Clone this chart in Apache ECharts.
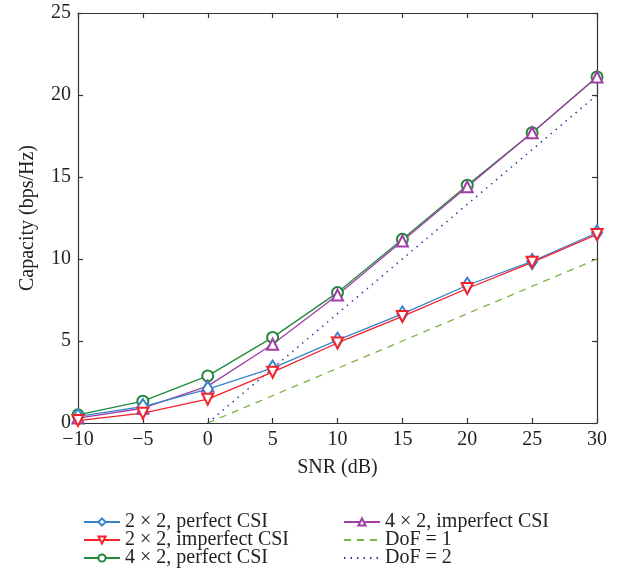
<!DOCTYPE html>
<html>
<head>
<meta charset="utf-8">
<script src="https://cdn.jsdelivr.net/npm/echarts@6/dist/echarts.min.js"></script>
<style>html,body{margin:0;padding:0;background:#fff}#c{width:621px;height:586px}</style>
</head>
<body>
<div id="c"></div>
<script>
var snr = [-10, -5, 0, 5, 10, 15, 20, 25, 30];
var perfect22 = [0.4, 1.0, 2.07, 3.35, 5.05, 6.65, 8.4, 9.85, 11.6];
var imperfect22 = [0.15, 0.6, 1.45, 3.1, 4.88, 6.5, 8.2, 9.8, 11.5];
var perfect42 = [0.5, 1.33, 2.87, 5.22, 7.95, 11.2, 14.5, 17.7, 21.1];
var imperfect42 = [0.3, 0.9, 2.25, 4.8, 7.8, 11.1, 14.4, 17.7, 21.1];
var dof1X = [0, 30];
var dof1Y = [0, 10];
var dof2X = [0, 30];
var dof2Y = [0, 20];
var names = ['2 × 2, perfect CSI', '2 × 2, imperfect CSI', '4 × 2, perfect CSI', '4 × 2, imperfect CSI', 'DoF = 1', 'DoF = 2'];

function pairs(xs, ys) { return xs.map(function (x, i) { return [x, ys[i]]; }); }
var font = 'Liberation Serif';
var minus = function (v) { return String(v).replace('-', '\u2212'); };

var chart = echarts.init(document.getElementById('c'));
function lineSeries(name, data, color, symbol, rotate, size) {
  return {
    name: name, type: 'line', data: data, symbol: symbol, symbolSize: size, symbolRotate: rotate || 0,
    showAllSymbol: true,
    lineStyle: { color: color, width: 1.3 }, itemStyle: { color: color, borderWidth: 1.3 },
    emphasis: { disabled: true }, z: 3
  };
}
var axisCommon = {
  type: 'value',
  axisLine: { show: true, onZero: false, lineStyle: { color: '#333', width: 1.2 } },
  axisTick: { show: true, inside: true, length: 5, lineStyle: { color: '#333', width: 1.2 } },
  splitLine: { show: false }
};
var legendText = { fontFamily: font, fontSize: 20, color: '#222', lineHeight: 18 };
chart.setOption({
  animation: false,
  textStyle: { fontFamily: font },
  grid: { left: 78, right: 24, top: 13, bottom: 163 },
  xAxis: [
    Object.assign({}, axisCommon, { min: -10, max: 30, interval: 5, position: 'bottom',
      name: 'SNR (dB)', nameLocation: 'middle', nameGap: 35,
      nameTextStyle: { fontFamily: font, fontSize: 20, color: '#222' },
      axisLabel: { fontFamily: font, fontSize: 20, color: '#222', margin: 7, formatter: minus } }),
    Object.assign({}, axisCommon, { min: -10, max: 30, interval: 5, position: 'top', axisLabel: { show: false } })
  ],
  yAxis: [
    Object.assign({}, axisCommon, { min: 0, max: 25, interval: 5, position: 'left',
      name: 'Capacity (bps/Hz)', nameLocation: 'middle', nameGap: 40,
      nameTextStyle: { fontFamily: font, fontSize: 20, color: '#222' },
      axisLabel: { fontFamily: font, fontSize: 20, color: '#222', margin: 7 } }),
    Object.assign({}, axisCommon, { min: 0, max: 25, interval: 5, position: 'right', axisLabel: { show: false } })
  ],
  legend: [
    { data: names.slice(0, 3), orient: 'vertical', left: 78, top: 507, itemWidth: 36, itemHeight: 9, itemGap: -2,
      textStyle: legendText },
    { data: [names[3], { name: names[4], itemStyle: { opacity: 0 } }, { name: names[5], itemStyle: { opacity: 0 } }],
      orient: 'vertical', left: 338, top: 507, itemWidth: 36, itemHeight: 9, itemGap: -2,
      textStyle: legendText }
  ],
  series: [
    {
      name: 'DoF = 1', type: 'line', data: pairs(dof1X, dof1Y), symbol: 'none',
      lineStyle: { color: '#7cb342', width: 1.3, type: [7, 6] }, itemStyle: { color: '#7cb342' }, z: 2
    },
    {
      name: 'DoF = 2', type: 'line', data: pairs(dof2X, dof2Y), symbol: 'none',
      lineStyle: { color: '#2b3aa3', width: 1.5, type: [1.5, 5] }, itemStyle: { color: '#2b3aa3' }, z: 2
    },
    lineSeries(names[2], pairs(snr, perfect42), '#1f8a3b', 'emptyCircle', 0, 11),
    lineSeries(names[3], pairs(snr, imperfect42), '#a13ea6', 'emptyTriangle', 0, 11),
    lineSeries(names[0], pairs(snr, perfect22), '#3884cc', 'emptyDiamond', 0, [10, 15]),
    lineSeries(names[1], pairs(snr, imperfect22), '#f5222a', 'emptyTriangle', 180, 11)
  ]
});
</script>
</body>
</html>
